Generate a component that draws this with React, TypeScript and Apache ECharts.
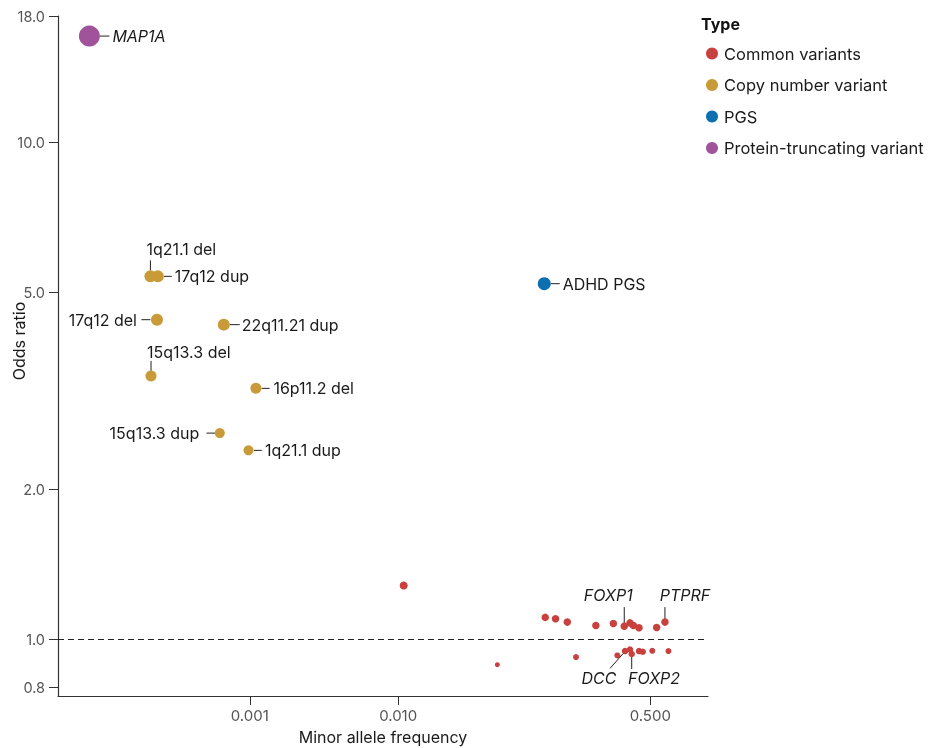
import React, { useEffect, useRef } from "react";
import * as echarts from "echarts";

// ---------- data ----------
const ptvNames = ["MAP1A"];
const ptvMaf = [8.3e-5];
const ptvOr = [16.4];

const cnvNames = ["1q21.1 del", "17q12 dup", "17q12 del", "22q11.21 dup", "15q13.3 del", "16p11.2 del", "15q13.3 dup", "1q21.1 dup"];
const cnvMaf = [2.14e-4, 2.4e-4, 2.37e-4, 6.68e-4, 2.16e-4, 1.1e-3, 6.28e-4, 9.8e-4];
const cnvOr = [5.38, 5.38, 4.4, 4.3, 3.39, 3.2, 2.6, 2.4];

const pgsNames = ["ADHD PGS"];
const pgsMaf = [0.0965];
const pgsOr = [5.2];

const commonLabels = ["", "", "", "", "", "", "FOXP1", "", "", "", "", "PTPRF", "", "", "", "DCC", "", "FOXP2", "", "", "", ""];
const commonMaf = [0.0109, 0.098, 0.115, 0.138, 0.215, 0.282, 0.334, 0.365, 0.385, 0.42, 0.552, 0.628, 0.0466, 0.158, 0.3, 0.338, 0.365, 0.375, 0.42, 0.445, 0.516, 0.663];
const commonOr = [1.282, 1.106, 1.099, 1.082, 1.065, 1.075, 1.062, 1.078, 1.065, 1.054, 1.055, 1.082, 0.888, 0.92, 0.927, 0.946, 0.953, 0.933, 0.946, 0.943, 0.947, 0.946];

const xTicks = [0.001, 0.01, 0.5];
const yTicks = [0.8, 1.0, 2.0, 5.0, 10.0, 18.0];
const xRange = [5.1e-5, 1.225];
const yRange = [0.768, 18];
const refOdds = 1.0;

const xTitle = "Minor allele frequency";
const yTitle = "Odds ratio";
const legendTitle = "Type";
const typeNames = ["Common variants", "Copy number variant", "PGS", "Protein-truncating variant"];

// ---------- styles ----------
const colors: Record<string, string> = {
  "Common variants": "#C9413F",
  "Copy number variant": "#C89B38",
  PGS: "#0B6FB0",
  "Protein-truncating variant": "#A0529B",
};
const ptvSizes = [21];
const cnvSizes = [12, 12, 12, 12, 11, 11, 10, 10];
const pgsSizes = [13];
const commonSizes = [8, 7.5, 7.5, 7.5, 7.5, 7.5, 7.5, 7.5, 7.5, 7.5, 7.5, 7.5, 5, 6, 6, 6.5, 6.5, 6.5, 6.5, 6.5, 6, 6];

type Lay = { l: number[]; t: number[]; align: string; italic?: boolean };
const layouts: Record<string, Lay> = {
  MAP1A: { l: [10, 0, 20, 0], t: [23, 0], align: "left", italic: true },
  "1q21.1 del": { l: [0, -6, 0, -16], t: [-4, -27], align: "left" },
  "17q12 dup": { l: [6, 0, 14, 0], t: [17, 0], align: "left" },
  "17q12 del": { l: [-6.6, 0, -15.6, 0], t: [-20, 0], align: "right" },
  "22q11.21 dup": { l: [6, 0, 16, 0], t: [18, 0], align: "left" },
  "15q13.3 del": { l: [0, -5, 0, -15], t: [-4, -24], align: "left" },
  "16p11.2 del": { l: [5.7, 0, 13.7, 0], t: [17.5, 0], align: "left" },
  "15q13.3 dup": { l: [-3.3, 0, -13.3, 0], t: [-20.5, 0], align: "right" },
  "1q21.1 dup": { l: [5.3, 0, 13.3, 0], t: [16.5, 0], align: "left" },
  "ADHD PGS": { l: [6.5, 0, 15.5, 0], t: [18.4, 0], align: "left" },
  FOXP1: { l: [0, -3, 0, -19], t: [-16, -31], align: "center", italic: true },
  PTPRF: { l: [0, -3, 0, -15], t: [20, -27], align: "center", italic: true },
  DCC: { l: [-1.7, 2.3, -15, 17.3], t: [-26, 27.3], align: "center", italic: true },
  FOXP2: { l: [0, 2.5, 0, 15], t: [-3.7, 24.3], align: "left", italic: true },
};

const FONT = "Inter, 'Noto Sans', sans-serif";
const lg = (v: number) => Math.log10(v);

function pts(maf: number[], or: number[], sizes: number[]) {
  return maf.map((m, i) => ({ value: [lg(m), lg(or[i])], symbolSize: sizes[i] }));
}

export default function App() {
  const ref = useRef<HTMLDivElement>(null);
  useEffect(() => {
    if (!ref.current) return;
    const chart = echarts.init(ref.current, undefined, { renderer: "svg" });

    const annotations: { x: number; y: number; label: string }[] = [];
    const addAnn = (names: string[], maf: number[], or: number[]) =>
      names.forEach((n, i) => {
        if (n) annotations.push({ x: lg(maf[i]), y: lg(or[i]), label: n });
      });
    addAnn(ptvNames, ptvMaf, ptvOr);
    addAnn(cnvNames, cnvMaf, cnvOr);
    addAnn(pgsNames, pgsMaf, pgsOr);
    addAnn(commonLabels, commonMaf, commonOr);

    const scatter = (name: string, data: any[], extra: any = {}) => ({
      name,
      type: "scatter",
      data,
      symbol: "circle",
      itemStyle: { color: colors[name], opacity: 1 },
      emphasis: { disabled: true },
      ...extra,
    });

    const option: any = {
      animation: false,
      textStyle: { fontFamily: FONT },
      grid: { left: 58, right: 221, top: 16, bottom: 52, containLabel: false, outerBoundsMode: "none" },
      xAxis: {
        type: "value",
        min: lg(xRange[0]),
        max: lg(xRange[1]),
        name: xTitle,
        nameLocation: "middle",
        nameGap: 33,
        nameTextStyle: { fontSize: 16, color: "#1a1a1a", fontFamily: FONT },
        axisLine: { show: true, onZero: false, lineStyle: { color: "#333", width: 1.2 } },
        axisTick: { show: true, length: 9, customValues: xTicks.map(lg), lineStyle: { color: "#333" } },
        axisLabel: {
          customValues: xTicks.map(lg),
          margin: 12,
          fontSize: 15,
          color: "#555",
          fontFamily: FONT,
          formatter: (v: number) => Math.pow(10, v).toFixed(3),
        },
        splitLine: { show: false },
      },
      yAxis: {
        type: "value",
        min: lg(yRange[0]),
        max: lg(yRange[1]),
        axisLine: { show: true, onZero: false, lineStyle: { color: "#333", width: 1.2 } },
        axisTick: { show: true, length: 9, customValues: yTicks.map(lg), lineStyle: { color: "#333" } },
        axisLabel: {
          customValues: yTicks.map(lg),
          margin: 13,
          fontSize: 14.5,
          color: "#555",
          fontFamily: FONT,
          formatter: (v: number) => Math.pow(10, v).toFixed(1),
        },
        splitLine: { show: false },
      },
      legend: {
        data: typeNames,
        orient: "vertical",
        left: 701,
        top: 40,
        icon: "circle",
        itemWidth: 12,
        itemHeight: 12,
        itemGap: 14.5,
        textStyle: { fontSize: 16.5, color: "#1a1a1a", fontFamily: FONT, lineHeight: 16, padding: [0, 0, 0, 1] },
        selectedMode: false,
      },
      graphic: [
        {
          type: "text",
          left: 701,
          top: 16,
          style: { text: legendTitle, fontSize: 16, fontWeight: "bold", fill: "#111", fontFamily: FONT },
        },
        {
          type: "text",
          x: 19,
          y: 341,
          rotation: Math.PI / 2,
          style: {
            text: yTitle,
            x: 0,
            y: 0,
            align: "center",
            verticalAlign: "middle",
            fontSize: 16,
            fill: "#1a1a1a",
            fontFamily: FONT,
          },
        },
      ],
      series: [
        scatter("Common variants", pts(commonMaf, commonOr, commonSizes), {
          markLine: {
            silent: true,
            symbol: "none",
            label: { show: false },
            lineStyle: { color: "#222", type: [6, 4], width: 1.2 },
            data: [{ yAxis: lg(refOdds) }],
          },
        }),
        scatter("Copy number variant", pts(cnvMaf, cnvOr, cnvSizes)),
        scatter("PGS", pts(pgsMaf, pgsOr, pgsSizes)),
        scatter("Protein-truncating variant", pts(ptvMaf, ptvOr, ptvSizes)),
        {
          name: "annotations",
          type: "custom",
          silent: true,
          clip: false,
          data: annotations.map((a) => [a.x, a.y]),
          renderItem: (params: any, api: any) => {
            const a = annotations[params.dataIndex];
            const lay = layouts[a.label];
            const p = api.coord([api.value(0), api.value(1)]);
            return {
              type: "group",
              children: [
                {
                  type: "line",
                  shape: { x1: p[0] + lay.l[0], y1: p[1] + lay.l[1], x2: p[0] + lay.l[2], y2: p[1] + lay.l[3] },
                  style: { stroke: "#222", lineWidth: 1 },
                },
                {
                  type: "text",
                  style: {
                    text: a.label,
                    x: p[0] + lay.t[0],
                    y: p[1] + lay.t[1],
                    align: lay.align,
                    verticalAlign: "middle",
                    fontSize: 16,
                    fontStyle: lay.italic ? "italic" : "normal",
                    fontFamily: FONT,
                    fill: "#1a1a1a",
                  },
                },
              ],
            };
          },
        },
      ],
    };
    chart.setOption(option);
    return () => chart.dispose();
  }, []);
  return <div ref={ref} style={{ position: "fixed", left: 0, top: 0, width: 929, height: 748 }} />;
}
